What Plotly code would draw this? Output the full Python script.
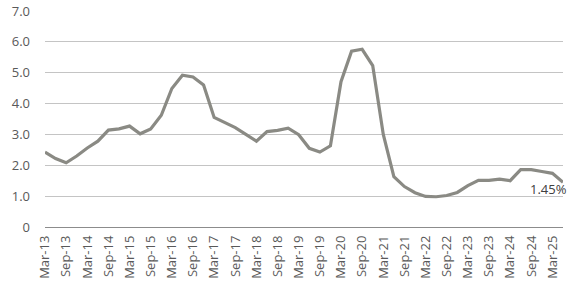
import plotly.graph_objects as go

quarters = []
for yr in range(13, 26):
    for m in ["Mar", "Jun", "Sep", "Dec"]:
        quarters.append(f"{m}-{yr}")
quarters = quarters[:50]  # Mar-13 .. Jun-25

values = [2.43, 2.22, 2.08, 2.30, 2.56, 2.78, 3.14, 3.18, 3.27, 3.02,
          3.18, 3.62, 4.49, 4.92, 4.86, 4.60, 3.55, 3.38, 3.22, 3.00,
          2.78, 3.09, 3.13, 3.20, 2.99, 2.55, 2.43, 2.63, 4.71, 5.70,
          5.76, 5.23, 3.00, 1.63, 1.31, 1.11, 0.99, 0.98, 1.02, 1.12,
          1.34, 1.51, 1.51, 1.55, 1.50, 1.86, 1.86, 1.80, 1.74, 1.45]

y_ticks = [0, 1, 2, 3, 4, 5, 6, 7]
y_tick_text = ["0", "1.0", "2.0", "3.0", "4.0", "5.0", "6.0", "7.0"]
x_tick_labels = [q for q in quarters if q.startswith(("Mar", "Sep"))]
last_label = "1.45%"

fig = go.Figure()
fig.add_trace(go.Scatter(
    x=quarters, y=values, mode="lines",
    line=dict(color="#8a8a84", width=3.2),
    cliponaxis=False, hoverinfo="skip",
))
fig.add_annotation(
    x=quarters[-1], y=values[-1], text=last_label, showarrow=False,
    xanchor="right", yanchor="middle", xshift=6, yshift=-7,
    font=dict(family="Open Sans", size=13, color="#404040"),
)
fig.update_layout(
    width=580, height=285,
    margin=dict(l=45, r=17, t=11, b=58),
    paper_bgcolor="white", plot_bgcolor="white",
    showlegend=False,
    font=dict(family="Open Sans", size=13, color="#595959"),
    xaxis=dict(
        type="category", categoryorder="array", categoryarray=quarters,
        tickmode="array", tickvals=x_tick_labels, ticktext=x_tick_labels,
        tickangle=-90, showgrid=False, showline=False, zeroline=False,
        ticks="", range=[0, len(quarters) - 1], automargin=False,
        ticklabelstandoff=5,
        tickfont=dict(size=13, color="#595959"),
    ),
    yaxis=dict(
        range=[0, 7], tickmode="array", tickvals=y_ticks, ticktext=y_tick_text,
        showgrid=True, gridcolor="#c4c4c4", gridwidth=1,
        zeroline=True, zerolinecolor="#8c8c8c", zerolinewidth=1,
        showline=False, ticks="", ticklabelstandoff=14, automargin=False,
        tickfont=dict(size=13, color="#595959"),
    ),
)
fig.write_html("out.html")
